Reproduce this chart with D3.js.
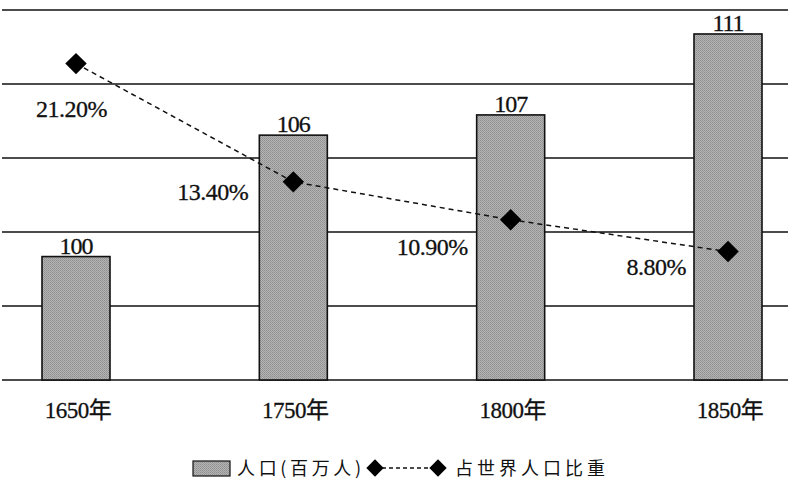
<!DOCTYPE html>
<html>
<head>
<meta charset="utf-8">
<title>人口与占世界人口比重</title>
<script src="https://cdn.jsdelivr.net/npm/d3@7"></script>
<style>
  body { margin: 0; background: #fff; }
  text { font-family: "Liberation Serif", "Noto Sans CJK SC", serif; fill: #111; stroke: #111; stroke-width: 0.3px; }
  .cjk { font-family: "Noto Sans CJK SC", sans-serif; stroke-width: 0; }
</style>
</head>
<body>
<div id="chart"></div>
<script>
// data
var years = ["1650年", "1750年", "1800年", "1850年"];
var population = [100, 106, 107, 111];       // 百万人
var share = [21.2, 13.4, 10.9, 8.8];         // 占世界人口比重 %
var shareLabels = ["21.20%", "13.40%", "10.90%", "8.80%"];
// where each % label sits relative to its marker (end anchor)
var labelOffsets = [[31, 53], [-45, 18], [-43, 35], [-42, 23]];

var width = 795, height = 495;
var baseY = 380;

var svg = d3.select("#chart").append("svg")
    .attr("width", width)
    .attr("height", height);

// dotted grey fill like the printed bars
var pat = svg.append("defs").append("pattern")
    .attr("id", "dots")
    .attr("width", 2).attr("height", 2)
    .attr("patternUnits", "userSpaceOnUse");
pat.append("rect").attr("width", 2).attr("height", 2).attr("fill", "#b4b4b4");
pat.append("rect").attr("width", 1).attr("height", 1).attr("fill", "#8e8e8e");
pat.append("rect").attr("x", 1).attr("y", 1).attr("width", 1).attr("height", 1).attr("fill", "#9a9a9a");

var x = d3.scalePoint().domain(years).range([76, 728]);
var barW = 68;
var yPop = d3.scaleLinear().domain([93.9, 110.9]).range([baseY, 36]);
var yShare = d3.scaleLinear().domain([0, 25]).range([385, 6]);
var gridY = d3.scaleLinear().domain([0, 5]).range([baseY, 10]);

// horizontal rules
svg.append("g")
  .selectAll("line")
  .data(d3.range(6))
  .enter().append("line")
    .attr("x1", 2).attr("x2", 788)
    .attr("y1", function(d) { return gridY(d); })
    .attr("y2", function(d) { return gridY(d); })
    .attr("stroke", "#111")
    .attr("stroke-width", 1.7);

// bars
svg.append("g")
  .selectAll("rect")
  .data(population)
  .enter().append("rect")
    .attr("x", function(d, i) { return x(years[i]) - barW / 2; })
    .attr("y", function(d) { return yPop(d); })
    .attr("width", barW)
    .attr("height", function(d) { return baseY - yPop(d); })
    .attr("fill", "url(#dots)")
    .attr("stroke", "#111")
    .attr("stroke-width", 1.6);

// bar value labels
svg.append("g")
  .selectAll("text")
  .data(population)
  .enter().append("text")
    .attr("x", function(d, i) { return x(years[i]); })
    .attr("y", function(d) { return yPop(d) - 3; })
    .attr("text-anchor", "middle")
    .style("font-size", "24px")
    .style("letter-spacing", "-1px")
    .text(function(d) { return d; });

// dashed share line
var line = d3.line()
    .x(function(d, i) { return x(years[i]); })
    .y(function(d) { return yShare(d); });

svg.append("path")
    .datum(share)
    .attr("d", line)
    .attr("fill", "none")
    .attr("stroke", "#111")
    .attr("stroke-width", 1.5)
    .attr("stroke-dasharray", "5,4");

var diamond = d3.symbol().type(d3.symbolSquare).size(230);
svg.append("g")
  .selectAll("path")
  .data(share)
  .enter().append("path")
    .attr("d", diamond)
    .attr("transform", function(d, i) {
      return "translate(" + x(years[i]) + "," + yShare(d) + ") rotate(45)";
    })
    .attr("fill", "#000");

// share labels
svg.append("g")
  .selectAll("text")
  .data(share)
  .enter().append("text")
    .attr("x", function(d, i) { return x(years[i]) + labelOffsets[i][0]; })
    .attr("y", function(d, i) { return yShare(d) + labelOffsets[i][1]; })
    .attr("text-anchor", "end")
    .style("font-size", "24px")
    .style("letter-spacing", "-0.5px")
    .text(function(d, i) { return shareLabels[i]; });

// category labels
svg.append("g")
  .selectAll("text")
  .data(years)
  .enter().append("text")
    .attr("x", function(d) { return x(d) + 2; })
    .attr("y", 418)
    .attr("text-anchor", "middle")
    .style("font-size", "23px")
    .style("letter-spacing", "-0.5px")
    .text(function(d) { return d; });

// legend
var legend = svg.append("g");
legend.append("rect")
    .attr("x", 193).attr("y", 461)
    .attr("width", 37).attr("height", 15)
    .attr("fill", "url(#dots)")
    .attr("stroke", "#111")
    .attr("stroke-width", 1.2);
legend.append("text")
    .attr("class", "cjk")
    .attr("x", 237).attr("y", 475)
    .attr("textLength", 124)
    .attr("lengthAdjust", "spacing")
    .style("font-size", "18px")
    .text("人口(百万人)");
legend.append("line")
    .attr("x1", 375).attr("x2", 438)
    .attr("y1", 468).attr("y2", 468)
    .attr("stroke", "#111")
    .attr("stroke-width", 1.3)
    .attr("stroke-dasharray", "4,3");
legend.selectAll("path")
  .data([375, 438])
  .enter().append("path")
    .attr("d", d3.symbol().type(d3.symbolSquare).size(150))
    .attr("transform", function(d) { return "translate(" + d + ",468) rotate(45)"; })
    .attr("fill", "#000");
legend.append("text")
    .attr("class", "cjk")
    .attr("x", 455).attr("y", 475)
    .attr("textLength", 150)
    .attr("lengthAdjust", "spacing")
    .style("font-size", "18px")
    .text("占世界人口比重");
</script>
</body>
</html>
